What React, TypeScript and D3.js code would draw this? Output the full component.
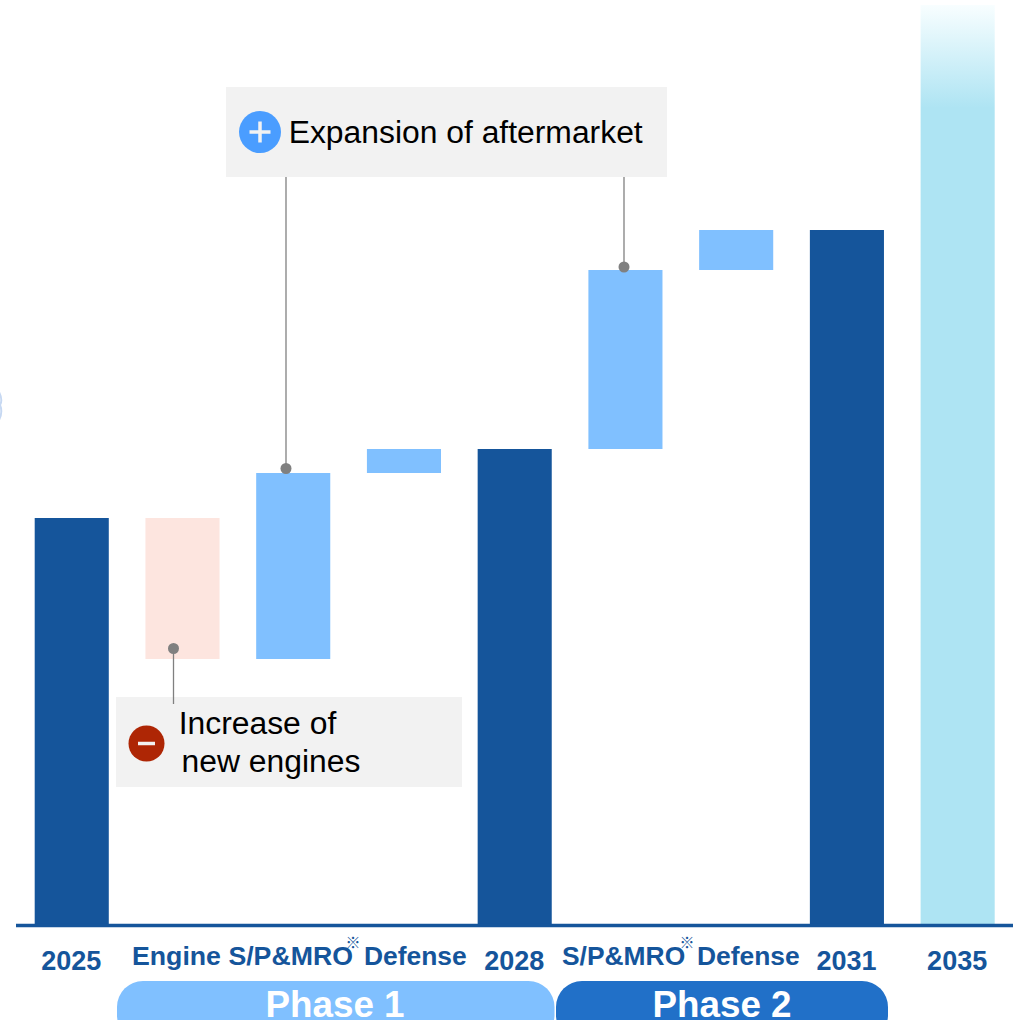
import React from "react";
import * as d3 from "d3";

const categories = ["2025", "Engine S/P&MRO", "Aftermarket S/P&MRO", "Defense 1", "2028", "S/P&MRO", "Defense 2", "2031", "2035"];
const barStart = [0, 266, 266, 452, 0, 476, 655, 0, 0];
const barEnd = [407, 407, 452, 476, 476, 655, 695, 695, 920];
const barKinds = ["total", "minus", "plus", "plus", "total", "plus", "plus", "total", "future"];
const yearLabels = ["2025", "2028", "2031", "2035"];
const yearIndex = [0, 4, 7, 8];
const FONT = "'Liberation Sans', Arial, sans-serif";
const DARK = "#15559b";
const LIGHT = "#80c0ff";
const FILL: Record<string, string> = { total: DARK, minus: "#fde5df", plus: LIGHT, future: "url(#fade)" };

const x = d3.scaleBand<string>().domain(categories).range([34.7, 994.7]).paddingInner(0.331).paddingOuter(0);
const y = d3.scaleLinear().domain([0, 920]).range([925, 5]);
const cx = (i: number) => (x(categories[i]) as number) + x.bandwidth() / 2;

function Note({ x: px, y: py }: { x: number; y: number }) {
  return <text x={px} y={py} fontFamily="'Noto Sans CJK JP'" fontSize={15} fill={DARK} textAnchor="middle">※</text>;
}

export default function App() {
  return (
    <svg width={1014} height={1020} viewBox="0 0 1014 1020" style={{ position: "absolute", left: 0, top: 0, display: "block", background: "#ffffff" }}>
      <defs>
        <linearGradient id="fade" gradientUnits="userSpaceOnUse" x1={0} x2={0} y1={5} y2={108}>
          <stop offset="0" stopColor="#f8feff" />
          <stop offset="1" stopColor="#aee4f3" />
        </linearGradient>
      </defs>

      <path d="M-1 392 Q3 400 0 405 Q3 412 -1 420" fill="none" stroke="#c6d8f2" strokeWidth={2} />

      {categories.map((c, i) => (
        <rect key={c} x={x(c)} y={y(barEnd[i])} width={x.bandwidth()} height={y(barStart[i]) - y(barEnd[i])} fill={FILL[barKinds[i]]} />
      ))}

      <line x1={16} x2={1013} y1={925.5} y2={925.5} stroke={DARK} strokeWidth={3.5} />

      <g fontFamily={FONT} fontWeight="bold" fontSize={27} fill={DARK}>
        {yearLabels.map((t, i) => (
          <text key={t} x={cx(yearIndex[i]) - 0.5} y={970} textAnchor="middle">{t}</text>
        ))}
        <text x={132} y={965} fontSize={26.7}>Engine S/P&amp;MRO</text>
        <text x={364} y={965} fontSize={26.4}>Defense</text>
        <text x={562} y={965} fontSize={26.4}>S/P&amp;MRO</text>
        <text x={697} y={965} fontSize={26.4}>Defense</text>
      </g>
      <Note x={353} y={948} />
      <Note x={687} y={948} />

      <rect x={117} y={981} width={437.5} height={60} rx={26} fill={LIGHT} />
      <rect x={556} y={981} width={332} height={60} rx={26} fill="#2170c8" />
      <g fontFamily={FONT} fontWeight="bold" fontSize={36.8} fill="#ffffff" textAnchor="middle">
        <text x={335} y={1017}>Phase 1</text>
        <text x={722} y={1017}>Phase 2</text>
      </g>

      <rect x={226} y={87} width={441} height={90} fill="#f2f2f2" />
      <rect x={116} y={697} width={346} height={90} fill="#f2f2f2" />

      <g stroke="#808080" strokeWidth={1.3}>
        <line x1={286} x2={286} y1={177} y2={468} />
        <line x1={624} x2={624} y1={177} y2={267} />
        <line x1={173.5} x2={173.5} y1={648} y2={704} />
      </g>
      <g fill="#808080">
        <circle cx={286} cy={468.5} r={5.5} />
        <circle cx={624} cy={267} r={5.5} />
        <circle cx={173.5} cy={648.5} r={5.5} />
      </g>

      <circle cx={260} cy={132} r={21} fill="#4a9dff" />
      <path d="M249.5 132H270.5M260 121.5V142.5" stroke="#f2f2f2" strokeWidth={3.5} fill="none" />
      <circle cx={146.5} cy={743.5} r={18} fill="#ae2605" />
      <path d="M138 743.5H155" stroke="#f2f2f2" strokeWidth={3.5} fill="none" />

      <g fontFamily={FONT} fontSize={31.85} fill="#000000">
        <text x={288.7} y={143}>Expansion of aftermarket</text>
        <text x={178.7} y={734}>Increase of</text>
        <text x={181.5} y={772}>new engines</text>
      </g>
    </svg>
  );
}
